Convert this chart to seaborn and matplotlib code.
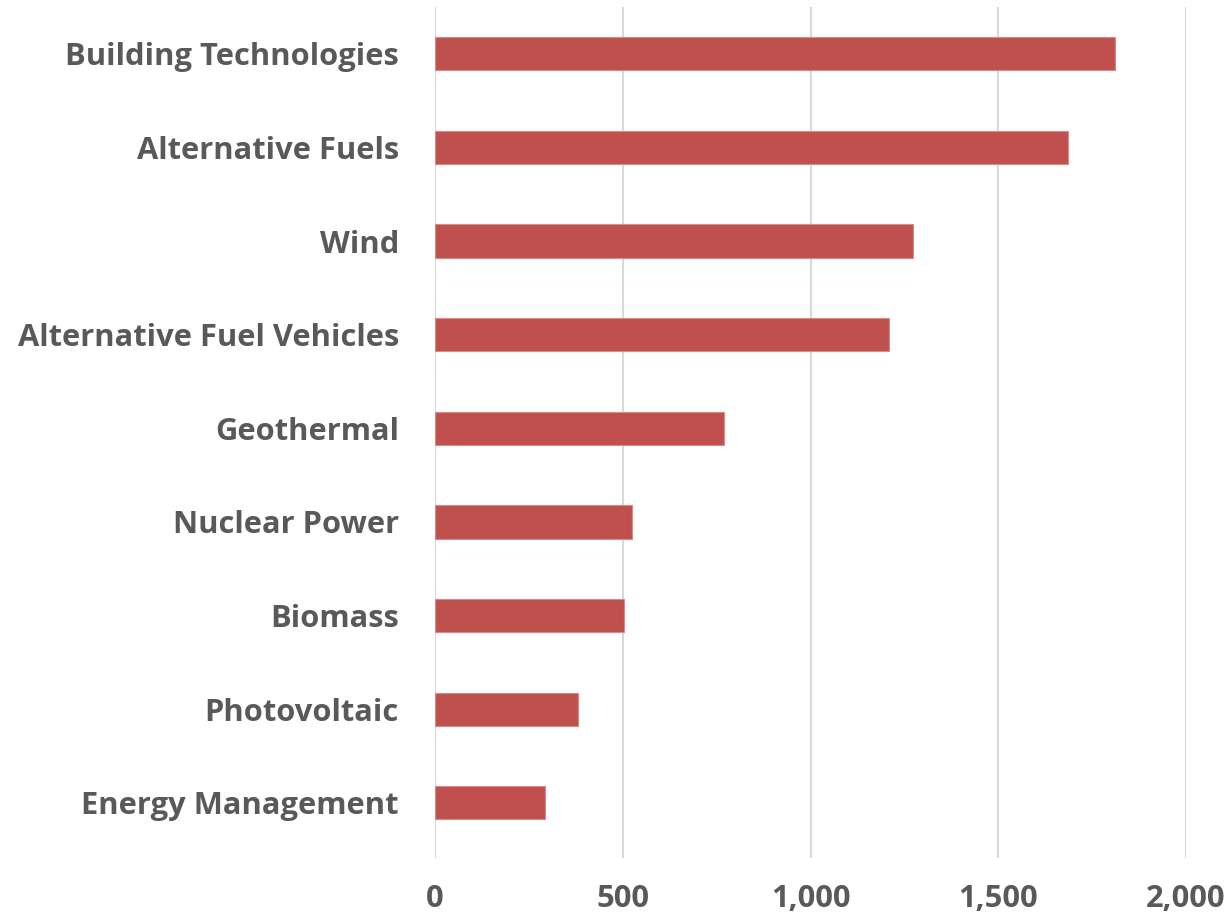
import matplotlib
matplotlib.use("Agg")
import matplotlib.pyplot as plt
import seaborn as sns
import pandas as pd
from matplotlib.ticker import FuncFormatter

categories = ["Building Technologies", "Alternative Fuels", "Wind",
              "Alternative Fuel Vehicles", "Geothermal", "Nuclear Power",
              "Biomass", "Photovoltaic", "Energy Management"]
values = [1811, 1687, 1273, 1210, 770, 525, 504, 380, 293]
x_ticks = [0, 500, 1000, 1500, 2000]

df = pd.DataFrame({"category": categories, "value": values})

sns.set_theme(style="white")
plt.rcParams["font.family"] = ["Open Sans", "DejaVu Sans"]

fig = plt.figure(figsize=(12.32, 9.17), dpi=100)
ax = fig.add_axes([435/1232, 1 - 858/917, (1186-435)/1232, (858-7)/917])

sns.barplot(data=df, x="value", y="category", order=categories,
            color="#C0504D", saturation=1, width=0.355,
            edgecolor="#D98A88", linewidth=0.8, ax=ax, zorder=3)

ax.set_xlim(0, 2000)
ax.set_ylim(8.59, -0.5)
ax.set_xticks(x_ticks)
ax.xaxis.set_major_formatter(FuncFormatter(lambda v, p: f"{int(v):,}"))
ax.grid(axis="x", color="#D9D9D9", linewidth=1.5, zorder=0)
ax.set_axisbelow(True)
for s in ax.spines.values():
    s.set_visible(False)
ax.set_xlabel("")
ax.set_ylabel("")
ax.tick_params(axis="y", length=0, pad=26, labelsize=22.2, labelcolor="#595959")
ax.tick_params(axis="x", length=0, pad=19, labelsize=22.2, labelcolor="#595959")
for lbl in ax.get_yticklabels() + ax.get_xticklabels():
    lbl.set_fontweight("bold")

fig.savefig("out.png", dpi=100, facecolor="white")
